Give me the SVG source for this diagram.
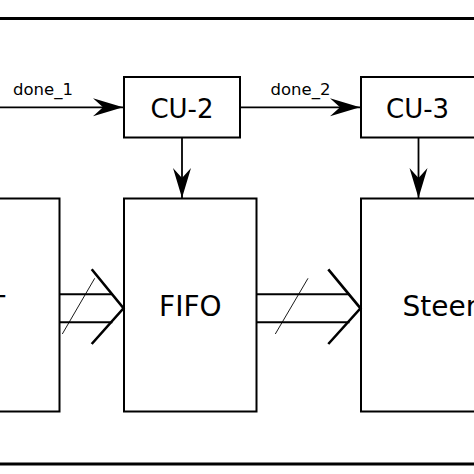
<svg xmlns="http://www.w3.org/2000/svg" width="474" height="474" viewBox="0 0 474 474">
<defs>
<style>
.box{fill:#fff;stroke:#000;stroke-width:2}
.lbl{font-family:"DejaVu Sans",sans-serif;fill:#000}
.big{font-size:28px}
.cu{font-size:26px}
.sig{font-size:16.5px}
.wire{stroke:#000;stroke-width:1.8;fill:none}
.bus{stroke:#000;stroke-width:2;fill:none}
.chev{stroke:#000;stroke-width:2.6;fill:none}
.slash{stroke:#000;stroke-width:0.9;fill:none}
.frame{stroke:#000;stroke-width:3}
</style>
<marker id="ah" markerUnits="userSpaceOnUse" viewBox="-31 -10 32 20" refX="0" refY="0" markerWidth="32" markerHeight="20" orient="auto">
<path d="M0,0 L-30,-9 L-20,0 L-30,9 Z" fill="#000"/>
</marker>
</defs>
<rect width="474" height="474" fill="#fff"/>
<g id="frame">
<line class="frame" x1="0" y1="18.5" x2="474" y2="18.5"/>
<line class="frame" x1="0" y1="464" x2="474" y2="464"/>
</g>
<g id="left-block">
<rect class="box" x="-10" y="198.5" width="69.5" height="213"/>
<text class="lbl big" x="-12" y="315.5">T</text>
</g>
<g id="cu2">
<rect class="box" x="124" y="77" width="116" height="60.5"/>
<text class="lbl cu" x="182" y="117.5" text-anchor="middle">CU-2</text>
</g>
<g id="cu3">
<rect class="box" x="361" y="77" width="130" height="60.5"/>
<text class="lbl cu" x="386" y="117.5">CU-3</text>
</g>
<g id="fifo">
<rect class="box" x="124" y="198.5" width="132.5" height="213"/>
<text class="lbl big" x="190.3" y="315.5" text-anchor="middle">FIFO</text>
</g>
<g id="steer">
<rect class="box" x="361" y="198.5" width="130" height="213"/>
<text class="lbl big" x="402.5" y="315.5">Steer</text>
</g>
<g id="connectors">
<line class="wire" x1="0" y1="107.3" x2="123" y2="107.3" marker-end="url(#ah)"/>
<text class="lbl sig" x="13" y="95">done_1</text>
<line class="wire" x1="240" y1="107.3" x2="360" y2="107.3" marker-end="url(#ah)"/>
<text class="lbl sig" x="270.5" y="95">done_2</text>
<line class="wire" x1="182" y1="137.5" x2="182" y2="198" marker-end="url(#ah)"/>
<line class="wire" x1="418.5" y1="137.5" x2="418.5" y2="198" marker-end="url(#ah)"/>
<g id="bus1">
<line class="bus" x1="59.5" y1="294.3" x2="112.4" y2="294.3"/>
<line class="bus" x1="59.5" y1="322.3" x2="112.4" y2="322.3"/>
<polyline class="chev" points="91.7,269.3 123.5,308.3 91.7,344"/>
<line class="slash" x1="62.3" y1="334" x2="94.7" y2="278.3"/>
</g>
<g id="bus2">
<line class="bus" x1="256.5" y1="294.3" x2="349.5" y2="294.3"/>
<line class="bus" x1="256.5" y1="322.3" x2="349.5" y2="322.3"/>
<polyline class="chev" points="328.3,269.3 360.5,308.3 328.3,344"/>
<line class="slash" x1="275.3" y1="334" x2="308" y2="278.3"/>
</g>
</g>
</svg>
